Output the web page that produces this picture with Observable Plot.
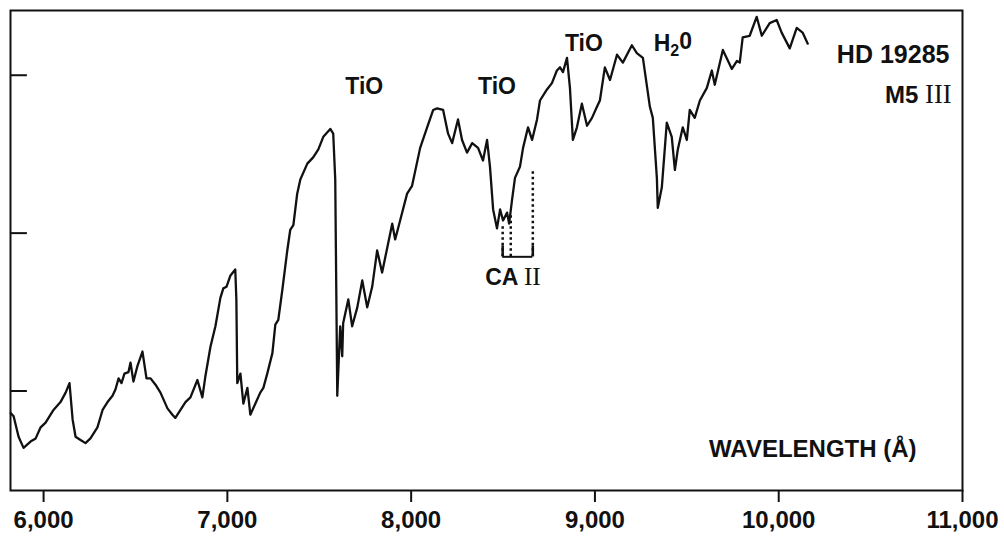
<!DOCTYPE html>
<html>
<head>
<meta charset="utf-8">
<script src="https://cdn.jsdelivr.net/npm/d3@7"></script>
<script src="https://cdn.jsdelivr.net/npm/@observablehq/plot@0.6"></script>
<style>
  html, body { margin: 0; padding: 0; background: #fff; }
  #chart svg { display: block; }
</style>
</head>
<body>
<div id="chart"></div>
<script>
// Spectrum of HD 19285 (M5 III), relative flux (arbitrary units)
const wavelength = [5821,5837,5864,5891,5929,5957,5984,6011,6054,6092,6120,6141,6158,6174,6201,6228,6255,6293,6321,6348,6375,6391,6408,6424,6440,6462,6473,6489,6511,6538,6560,6582,6609,6636,6674,6701,6717,6745,6772,6799,6837,6864,6880,6908,6935,6962,6978,6995,7016,7043,7049,7054,7071,7087,7109,7125,7152,7179,7196,7217,7245,7261,7277,7299,7326,7342,7359,7380,7397,7435,7467,7495,7522,7560,7576,7587,7598,7614,7625,7630,7658,7679,7707,7734,7761,7788,7815,7842,7897,7913,7940,7978,8005,8049,8087,8120,8141,8174,8201,8223,8255,8277,8304,8332,8364,8391,8413,8429,8446,8467,8484,8500,8522,8533,8549,8565,8592,8609,8636,8658,8685,8701,8739,8766,8793,8810,8826,8848,8864,8880,8902,8929,8957,8984,9011,9027,9054,9082,9120,9152,9201,9228,9261,9299,9315,9337,9342,9364,9391,9418,9435,9451,9478,9500,9516,9543,9571,9609,9636,9652,9696,9745,9772,9788,9804,9842,9880,9908,9951,9989,10016,10060,10098,10130,10158];
const flux = [0.86,0.84,0.71,0.64,0.68,0.70,0.77,0.80,0.88,0.93,0.99,1.05,0.82,0.71,0.69,0.67,0.70,0.77,0.88,0.93,0.97,1.01,1.08,1.05,1.11,1.12,1.18,1.06,1.16,1.25,1.08,1.08,1.04,0.99,0.89,0.85,0.83,0.88,0.93,0.96,1.07,0.96,1.09,1.28,1.41,1.59,1.65,1.66,1.73,1.77,1.58,1.05,1.11,0.92,1.02,0.85,0.92,0.99,1.02,1.11,1.24,1.42,1.45,1.64,1.89,2.02,2.05,2.25,2.34,2.44,2.48,2.53,2.61,2.66,2.63,2.34,0.97,1.41,1.22,1.43,1.58,1.41,1.53,1.70,1.53,1.66,1.89,1.75,2.06,1.96,2.08,2.25,2.30,2.54,2.67,2.78,2.79,2.78,2.63,2.57,2.72,2.59,2.51,2.57,2.54,2.46,2.59,2.42,2.15,2.03,2.15,2.08,2.13,2.06,2.21,2.35,2.42,2.54,2.67,2.59,2.72,2.84,2.91,2.95,3.03,3.05,3.02,3.11,2.92,2.59,2.67,2.82,2.68,2.73,2.80,2.84,3.05,2.97,3.13,3.08,3.19,3.14,3.11,2.80,2.73,2.35,2.16,2.29,2.70,2.61,2.40,2.53,2.67,2.59,2.78,2.73,2.84,2.92,3.03,2.94,3.16,3.04,3.09,3.08,3.24,3.25,3.37,3.25,3.33,3.35,3.27,3.17,3.30,3.27,3.20];

const xTicks = [6000, 7000, 8000, 9000, 10000, 11000];
const yTicks = [1, 2, 3];

// Ca II triplet markers
const caLines = [8498, 8542, 8662];
const caTops = [2.05, 2.11, 2.40];
const caBase = 1.85;

// Band annotations
const bandLabels = ["TiO", "TiO", "TiO", "H20"];
const bandX = [7745, 8467, 8940, 9424];
const bandY = [2.93, 2.93, 3.20, 3.20];

const spectrum = wavelength.map((w, i) => ({w, f: flux[i]}));
const bands = bandLabels.map((t, i) => ({t, x: bandX[i], y: bandY[i]}));
const ca = caLines.map((w, i) => ({w, top: caTops[i]}));

const xDomain = [5820, 11000];
const yDomain = [0.37, 3.41];

const plot = Plot.plot({
  width: 1004,
  height: 544,
  marginLeft: 10,
  marginRight: 42,
  marginTop: 10,
  marginBottom: 54,
  style: {fontFamily: "'Liberation Sans', Arial, sans-serif", fontSize: "22px", fontWeight: "bold", color: "#111", background: "#fff"},
  x: {domain: xDomain, ticks: xTicks, tickFormat: d3.format(","), tickSize: 12, tickPadding: 8, label: null},
  y: {domain: yDomain, axis: null},
  marks: [
    Plot.frame({stroke: "#111", strokeWidth: 2}),
    Plot.ruleY(yTicks, {x1: xDomain[0], x2: xDomain[0] + 92, stroke: "#111", strokeWidth: 2}),
    Plot.line(spectrum, {x: "w", y: "f", stroke: "#111", strokeWidth: 2.3, strokeLinejoin: "round"}),
    Plot.ruleX(ca, {x: "w", y1: caBase, y2: "top", stroke: "#111", strokeWidth: 2.5, strokeDasharray: "2.5,3"}),
    Plot.ruleY([caBase], {x1: caLines[0], x2: caLines[2], stroke: "#111", strokeWidth: 2}),
    Plot.ruleX([caLines[0], caLines[2]], {y1: caBase, y2: caBase + 0.07, stroke: "#111", strokeWidth: 2.5}),
    Plot.text(bands, {x: "x", y: "y", text: "t", fontSize: 23, fill: "#111"}),
    Plot.text(["HD 19285"], {x: 10929, y: 3.13, textAnchor: "end", fontSize: 25, fill: "#111"}),
    Plot.text(["M5 III"], {x: 10940, y: 2.87, textAnchor: "end", fontSize: 24, fill: "#111"}),
    Plot.text(["CA II"], {x: 8554, y: 1.72, fontSize: 23, fill: "#111"}),
    Plot.text(["WAVELENGTH (Å)"], {x: 10750, y: 0.63, textAnchor: "end", fontSize: 24, fill: "#111"})
  ]
});

const svg = d3.select(plot);
svg.selectAll("g[aria-label^='x-axis'] line, g[aria-label^='x-axis'] path").attr("stroke-width", 2);
svg.selectAll("g[aria-label^='x-axis'] text").attr("font-size", 24);

svg.selectAll("text").each(function() {
  const el = d3.select(this);
  const t = this.textContent;
  if (t === "H20") {
    el.text("");
    el.append("tspan").text("H");
    el.append("tspan").attr("font-size", 16).attr("dy", "0.3em").text("2");
    el.append("tspan").attr("dy", "-0.3em").text("0");
  } else if (t === "M5 III" || t === "CA II") {
    const [a, b] = t.split(" ");
    el.text("");
    el.append("tspan").text(a + " ");
    el.append("tspan").attr("font-family", "'Liberation Serif', 'Times New Roman', serif").attr("font-weight", "normal").attr("font-size", "1.1em").text(b);
  }
});

document.getElementById("chart").appendChild(plot);
</script>
</body>
</html>
